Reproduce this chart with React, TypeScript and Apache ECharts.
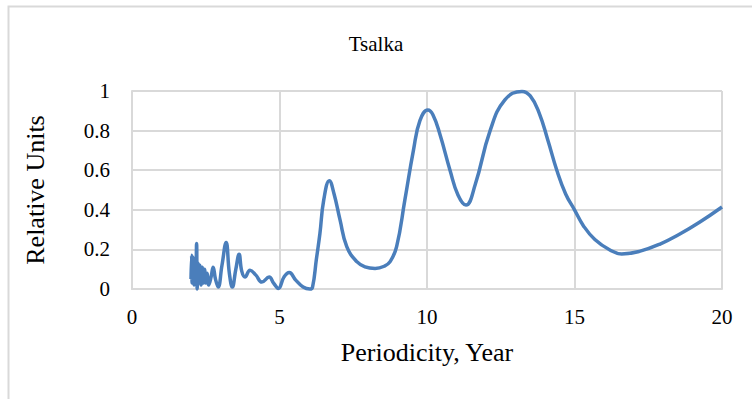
import React, { useEffect, useRef } from "react";
import * as echarts from "echarts";

const periodicity: number[] = [
  2.0, 2.02, 2.04, 2.07, 2.1, 2.13, 2.16, 2.19, 2.21, 2.24, 2.27, 2.3, 2.34, 2.38, 2.42, 2.46, 2.5, 2.55, 2.6,
  2.68, 2.75, 2.83, 2.92, 3.05, 3.19, 3.3, 3.4, 3.52, 3.63, 3.72, 3.83, 4.0, 4.2, 4.4, 4.65, 4.8, 4.96,
  5.15, 5.33, 5.55, 5.8, 6.03, 6.12, 6.25, 6.37, 6.5, 6.69, 6.85, 7.05, 7.28, 7.62, 7.9, 8.24, 8.55, 8.75,
  8.97, 9.25, 9.54, 9.76, 10.03, 10.2, 10.44, 10.78, 11.05, 11.32, 11.63, 12.14, 12.64, 13.22,
  13.5, 13.8, 14.1, 14.4, 14.7, 15.0, 15.3, 15.69, 16.2, 16.6, 17.2, 17.9, 18.6, 19.25, 20.0,
];
const relativeUnits: number[] = [
  0.05, 0.17, 0.03, 0.16, 0.02, 0.12, 0.04, 0.23, 0.0, 0.13, 0.03, 0.12, 0.02, 0.11, 0.03, 0.1, 0.03, 0.08, 0.02,
  0.06, 0.11, 0.05, 0.01, 0.12, 0.235, 0.08, 0.01, 0.1, 0.175, 0.09, 0.06, 0.095, 0.07, 0.035, 0.06, 0.03, 0.003,
  0.06, 0.083, 0.045, 0.01, 0.0, 0.01, 0.15, 0.28, 0.45, 0.547, 0.48, 0.35, 0.214, 0.138, 0.112, 0.104, 0.115, 0.138,
  0.214, 0.45, 0.7, 0.85, 0.904, 0.88, 0.78, 0.6, 0.475, 0.424, 0.525, 0.8, 0.955, 0.998,
  0.975, 0.89, 0.75, 0.6, 0.48, 0.4, 0.32, 0.25, 0.197, 0.177, 0.19, 0.227, 0.28, 0.338, 0.414,
];
const chartTitle = "Tsalka";
const xTicks = { min: 0, max: 20, interval: 5 };
const yTicks = { min: 0, max: 1, interval: 0.2 };

const FONT = "Liberation Serif";

export default function App() {
  const ref = useRef<HTMLDivElement>(null);
  useEffect(() => {
    if (!ref.current) return;
    const chart = echarts.init(ref.current, null, { renderer: "svg" });
    const data = periodicity.map((x, i) => [x, relativeUnits[i]]);
    chart.setOption({
      animation: false,
      backgroundColor: "#ffffff",
      textStyle: { fontFamily: FONT },
      graphic: [
        {
          type: "rect",
          shape: { x: 8.5, y: 6.5, width: 800, height: 500 },
          style: { fill: "none", stroke: "#d9d9d9", lineWidth: 2 },
          silent: true,
        },
        {
          type: "text",
          x: 376,
          y: 33,
          style: {
            text: chartTitle,
            font: "21px 'Liberation Serif'",
            fill: "#000",
            textAlign: "center",
          },
          silent: true,
        },
      ],
      grid: { left: 132, right: 30, top: 91, bottom: 110 },
      xAxis: {
        type: "value",
        min: xTicks.min,
        max: xTicks.max,
        interval: xTicks.interval,
        name: "Periodicity, Year",
        nameLocation: "middle",
        nameGap: 50,
        nameTextStyle: { fontFamily: FONT, fontSize: 26, color: "#000" },
        axisLine: { show: true, lineStyle: { color: "#d9d9d9", width: 2 } },
        axisTick: { show: false },
        axisLabel: { margin: 17, fontFamily: FONT, fontSize: 21, color: "#000" },
        splitLine: { show: true, lineStyle: { color: "#d9d9d9", width: 2 } },
      },
      yAxis: {
        type: "value",
        min: yTicks.min,
        max: yTicks.max,
        interval: yTicks.interval,
        name: "Relative Units",
        nameLocation: "middle",
        nameGap: 84,
        nameTextStyle: { fontFamily: FONT, fontSize: 26, color: "#000" },
        axisLine: { show: true, lineStyle: { color: "#d9d9d9", width: 2 } },
        axisTick: { show: false },
        axisLabel: { margin: 22, fontFamily: FONT, fontSize: 21, color: "#000" },
        splitLine: { show: true, lineStyle: { color: "#d9d9d9", width: 2 } },
      },
      series: [
        {
          type: "line",
          data,
          smooth: 0.45,
          showSymbol: false,
          clip: false,
          lineStyle: { color: "#4a7ebb", width: 3.5 },
        },
      ],
    });
    return () => chart.dispose();
  }, []);
  return (
    <div
      ref={ref}
      style={{ position: "fixed", left: 0, top: 0, width: 752, height: 399 }}
    />
  );
}
